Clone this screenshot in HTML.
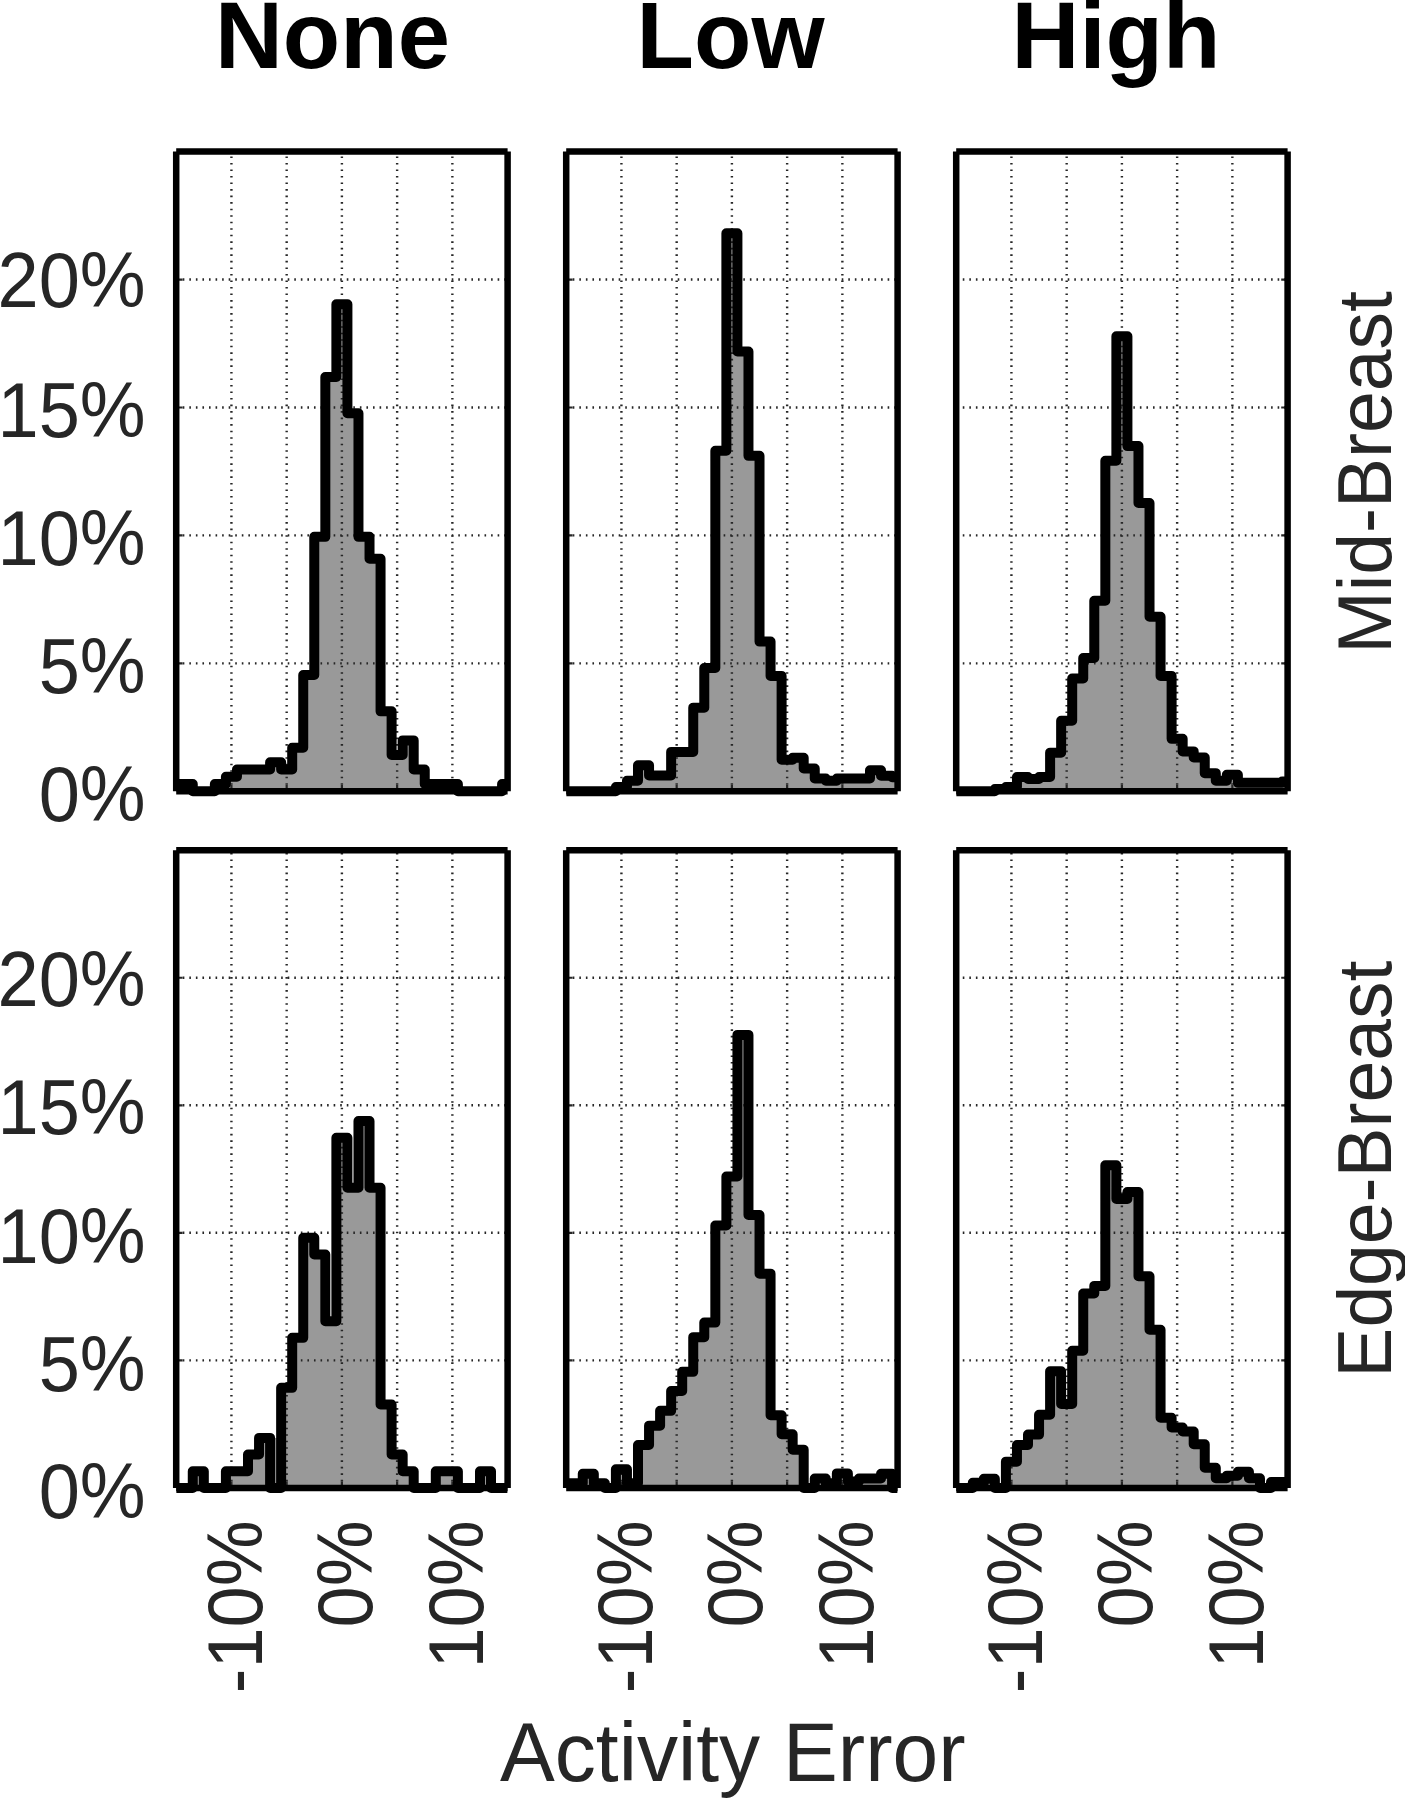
<!DOCTYPE html>
<html lang="en"><head><meta charset="utf-8">
<title>Activity Error histograms</title>
<style>
html,body{margin:0;padding:0;background:#fff;}
body{width:1405px;height:1800px;overflow:hidden;}
svg{display:block;}
text{font-family:"Liberation Sans",Arial,Helvetica,sans-serif;fill:#262626;}
.ttl{font-weight:bold;font-size:94px;fill:#000;}
.tk{font-size:74px;}
.rl{font-size:75px;}
.xl{font-size:82.2px;}
.g{fill:none;stroke:#262626;stroke-width:2.4;stroke-dasharray:1.6 4.96;}
.gv{stroke-dasharray:1.6 4.93;}
.t{fill:none;stroke:#262626;stroke-width:2.2;}
.h{fill:none;stroke:#000;stroke-width:10.0;stroke-linejoin:round;stroke-linecap:butt;}
.f{fill:none;stroke:#000;stroke-width:6.5;stroke-linecap:butt;}
</style></head><body>
<svg width="1405" height="1800" viewBox="0 0 1405 1800">
<rect width="1405" height="1800" fill="#fff"/>
<text class="ttl" transform="translate(215 68.4) scale(1 1.015)">None</text>
<text class="ttl" transform="translate(636.6 68.4) scale(1 1.015)">Low</text>
<text class="ttl" transform="translate(1011.6 68.4) scale(1 1.015)">High</text>
<g>
<clipPath id="c0"><rect x="176.2" y="131.6" width="331.4" height="679.7"/></clipPath>
<path d="M176.2 791.3V784.03H181.72V784.03H192.77V791.3H203.82V791.3H214.86V784.03H225.91V776.76H236.96V769.49H248V769.49H259.05V769.49H270.1V762.22H281.14V769.49H292.19V747.68H303.24V674.99H314.28V536.87H325.33V376.95H336.38V304.26H347.42V413.3H358.47V536.87H369.52V558.68H380.56V711.34H391.61V754.95H402.66V740.41H413.7V769.49H424.75V784.03H435.8V784.03H446.84V784.03H457.89V791.3H468.94V791.3H479.98V791.3H491.03V791.3H502.08V784.03H507.6V791.3H176.2Z" fill="#999999"/>
<path d="M231.43 791.4V151.6M286.67 791.4V151.6M341.9 791.4V151.6M397.13 791.4V151.6M452.37 791.4V151.6" class="g gv"/>
<path d="M176.2 663.36H507.6M176.2 535.42H507.6M176.2 407.48H507.6M176.2 279.54H507.6" class="g"/>
<path d="M176.2 663.36h6.4M176.2 535.42h6.4M176.2 407.48h6.4M176.2 279.54h6.4M231.43 791.3v-6.4M286.67 791.3v-6.4M341.9 791.3v-6.4M397.13 791.3v-6.4M452.37 791.3v-6.4" class="t"/>
<path d="M176.2 791.3V784.03H181.72V784.03H192.77V791.3H203.82V791.3H214.86V784.03H225.91V776.76H236.96V769.49H248V769.49H259.05V769.49H270.1V762.22H281.14V769.49H292.19V747.68H303.24V674.99H314.28V536.87H325.33V376.95H336.38V304.26H347.42V413.3H358.47V536.87H369.52V558.68H380.56V711.34H391.61V754.95H402.66V740.41H413.7V769.49H424.75V784.03H435.8V784.03H446.84V784.03H457.89V791.3H468.94V791.3H479.98V791.3H491.03V791.3H502.08V784.03H507.6" class="h" clip-path="url(#c0)"/>
<path d="M176.2 151.6H507.6M507.6 151.6V791.3M507.6 791.3H176.2M176.2 791.3V151.6" class="f"/>
</g>
<g>
<clipPath id="c1"><rect x="566.2" y="131.6" width="331.4" height="679.7"/></clipPath>
<path d="M566.2 791.3V791.3H571.72V791.3H582.77V791.3H593.82V791.3H604.86V791.3H615.91V786.95H626.96V780.81H638V765.2H649.05V775.44H660.1V775.44H671.14V751.89H682.19V751.89H693.24V707.63H704.28V667.97H715.33V450.72H726.38V233.23H737.42V351.44H748.47V455.84H759.52V641.61H770.56V675.9H781.61V759.83H792.66V757.78H803.7V768.53H814.75V778.51H825.8V780.81H836.84V778.51H847.89V778.51H858.94V778.51H869.98V770.32H881.03V775.69H892.08V777.23H897.6V791.3H566.2Z" fill="#999999"/>
<path d="M621.43 791.4V151.6M676.67 791.4V151.6M731.9 791.4V151.6M787.13 791.4V151.6M842.37 791.4V151.6" class="g gv"/>
<path d="M566.2 663.36H897.6M566.2 535.42H897.6M566.2 407.48H897.6M566.2 279.54H897.6" class="g"/>
<path d="M566.2 663.36h6.4M566.2 535.42h6.4M566.2 407.48h6.4M566.2 279.54h6.4M621.43 791.3v-6.4M676.67 791.3v-6.4M731.9 791.3v-6.4M787.13 791.3v-6.4M842.37 791.3v-6.4" class="t"/>
<path d="M566.2 791.3V791.3H571.72V791.3H582.77V791.3H593.82V791.3H604.86V791.3H615.91V786.95H626.96V780.81H638V765.2H649.05V775.44H660.1V775.44H671.14V751.89H682.19V751.89H693.24V707.63H704.28V667.97H715.33V450.72H726.38V233.23H737.42V351.44H748.47V455.84H759.52V641.61H770.56V675.9H781.61V759.83H792.66V757.78H803.7V768.53H814.75V778.51H825.8V780.81H836.84V778.51H847.89V778.51H858.94V778.51H869.98V770.32H881.03V775.69H892.08V777.23H897.6" class="h" clip-path="url(#c1)"/>
<path d="M566.2 151.6H897.6M897.6 151.6V791.3M897.6 791.3H566.2M566.2 791.3V151.6" class="f"/>
</g>
<g>
<clipPath id="c2"><rect x="956.2" y="131.6" width="331.4" height="679.7"/></clipPath>
<path d="M956.2 791.3V791.3H961.72V791.3H972.77V791.3H983.82V791.3H994.86V789H1005.91V786.95H1016.96V776.97H1028V779.02H1039.05V776.97H1050.1V752.66H1061.14V720.68H1072.19V678.46H1083.24V657.99H1094.28V600.67H1105.33V460.7H1116.38V336.35H1127.42V446.12H1138.47V502.92H1149.52V616.79H1160.56V675.9H1171.61V738.84H1182.66V751.38H1193.7V757.52H1204.75V773.13H1215.8V780.81H1226.84V774.67H1237.89V782.86H1248.94V782.86H1259.98V782.86H1271.03V782.86H1282.08V781.58H1287.6V791.3H956.2Z" fill="#999999"/>
<path d="M1011.43 791.4V151.6M1066.67 791.4V151.6M1121.9 791.4V151.6M1177.13 791.4V151.6M1232.37 791.4V151.6" class="g gv"/>
<path d="M956.2 663.36H1287.6M956.2 535.42H1287.6M956.2 407.48H1287.6M956.2 279.54H1287.6" class="g"/>
<path d="M1287.6 663.36h-6.4M1287.6 535.42h-6.4M1287.6 407.48h-6.4M1287.6 279.54h-6.4M1011.43 791.3v-6.4M1066.67 791.3v-6.4M1121.9 791.3v-6.4M1177.13 791.3v-6.4M1232.37 791.3v-6.4" class="t"/>
<path d="M956.2 791.3V791.3H961.72V791.3H972.77V791.3H983.82V791.3H994.86V789H1005.91V786.95H1016.96V776.97H1028V779.02H1039.05V776.97H1050.1V752.66H1061.14V720.68H1072.19V678.46H1083.24V657.99H1094.28V600.67H1105.33V460.7H1116.38V336.35H1127.42V446.12H1138.47V502.92H1149.52V616.79H1160.56V675.9H1171.61V738.84H1182.66V751.38H1193.7V757.52H1204.75V773.13H1215.8V780.81H1226.84V774.67H1237.89V782.86H1248.94V782.86H1259.98V782.86H1271.03V782.86H1282.08V781.58H1287.6" class="h" clip-path="url(#c2)"/>
<path d="M956.2 151.6H1287.6M1287.6 151.6V791.3M1287.6 791.3H956.2M956.2 791.3V151.6" class="f"/>
</g>
<g>
<clipPath id="c3"><rect x="176.2" y="830.2" width="331.4" height="677.7"/></clipPath>
<path d="M176.2 1487.9V1487.9H181.72V1487.9H192.77V1471.23H203.82V1487.9H214.86V1487.9H225.91V1471.23H236.96V1471.23H248V1454.56H259.05V1437.88H270.1V1487.9H281.14V1387.87H292.19V1337.85H303.24V1237.82H314.28V1254.49H325.33V1321.18H336.38V1137.79H347.42V1187.81H358.47V1121.12H369.52V1187.81H380.56V1404.54H391.61V1454.56H402.66V1471.23H413.7V1487.9H424.75V1487.9H435.8V1471.23H446.84V1471.23H457.89V1487.9H468.94V1487.9H479.98V1471.23H491.03V1487.9H502.08V1487.9H507.6V1487.9H176.2Z" fill="#999999"/>
<rect x="270.1" y="1437.88" width="11.05" height="50.02" fill="#999999"/>
<path d="M231.43 1488V850.2M286.67 1488V850.2M341.9 1488V850.2M397.13 1488V850.2M452.37 1488V850.2" class="g gv"/>
<path d="M176.2 1360.36H507.6M176.2 1232.82H507.6M176.2 1105.28H507.6M176.2 977.74H507.6" class="g"/>
<path d="M176.2 1360.36h6.4M176.2 1232.82h6.4M176.2 1105.28h6.4M176.2 977.74h6.4M231.43 1487.9v-6.4M286.67 1487.9v-6.4M341.9 1487.9v-6.4M397.13 1487.9v-6.4M452.37 1487.9v-6.4" class="t"/>
<path d="M176.2 1487.9V1487.9H181.72V1487.9H192.77V1471.23H203.82V1487.9H214.86V1487.9H225.91V1471.23H236.96V1471.23H248V1454.56H259.05V1437.88H270.1V1487.9H281.14V1387.87H292.19V1337.85H303.24V1237.82H314.28V1254.49H325.33V1321.18H336.38V1137.79H347.42V1187.81H358.47V1121.12H369.52V1187.81H380.56V1404.54H391.61V1454.56H402.66V1471.23H413.7V1487.9H424.75V1487.9H435.8V1471.23H446.84V1471.23H457.89V1487.9H468.94V1487.9H479.98V1471.23H491.03V1487.9H502.08V1487.9H507.6" class="h" clip-path="url(#c3)"/>
<path d="M176.2 850.2H507.6M507.6 850.2V1487.9M507.6 1487.9H176.2M176.2 1487.9V850.2" class="f"/>
</g>
<g>
<clipPath id="c4"><rect x="566.2" y="830.2" width="331.4" height="677.7"/></clipPath>
<path d="M566.2 1487.9V1483.23H571.72V1483.23H582.77V1473.74H593.82V1483.23H604.86V1487.9H615.91V1469.28H626.96V1483.23H638V1444.92H649.05V1425.66H660.1V1410.87H671.14V1390.97H682.19V1371.84H693.24V1337.15H704.28V1322.61H715.33V1225.42H726.38V1176.45H737.42V1034.88H748.47V1214.96H759.52V1273.63H770.56V1415.2H781.61V1434.33H792.66V1449.64H803.7V1487.9H814.75V1478.56H825.8V1483.31H836.84V1473.41H847.89V1481.52H858.94V1478.56H869.98V1478.56H881.03V1473.87H892.08V1487.9H897.6V1487.9H566.2Z" fill="#999999"/>
<path d="M621.43 1488V850.2M676.67 1488V850.2M731.9 1488V850.2M787.13 1488V850.2M842.37 1488V850.2" class="g gv"/>
<path d="M566.2 1360.36H897.6M566.2 1232.82H897.6M566.2 1105.28H897.6M566.2 977.74H897.6" class="g"/>
<path d="M566.2 1360.36h6.4M566.2 1232.82h6.4M566.2 1105.28h6.4M566.2 977.74h6.4M621.43 1487.9v-6.4M676.67 1487.9v-6.4M731.9 1487.9v-6.4M787.13 1487.9v-6.4M842.37 1487.9v-6.4" class="t"/>
<path d="M566.2 1487.9V1483.23H571.72V1483.23H582.77V1473.74H593.82V1483.23H604.86V1487.9H615.91V1469.28H626.96V1483.23H638V1444.92H649.05V1425.66H660.1V1410.87H671.14V1390.97H682.19V1371.84H693.24V1337.15H704.28V1322.61H715.33V1225.42H726.38V1176.45H737.42V1034.88H748.47V1214.96H759.52V1273.63H770.56V1415.2H781.61V1434.33H792.66V1449.64H803.7V1487.9H814.75V1478.56H825.8V1483.31H836.84V1473.41H847.89V1481.52H858.94V1478.56H869.98V1478.56H881.03V1473.87H892.08V1487.9H897.6" class="h" clip-path="url(#c4)"/>
<path d="M566.2 850.2H897.6M897.6 850.2V1487.9M897.6 1487.9H566.2M566.2 1487.9V850.2" class="f"/>
</g>
<g>
<clipPath id="c5"><rect x="956.2" y="830.2" width="331.4" height="677.7"/></clipPath>
<path d="M956.2 1487.9V1487.9H961.72V1487.9H972.77V1482.8H983.82V1478.72H994.86V1487.9H1005.91V1461.63H1016.96V1444.92H1028V1434.59H1039.05V1414.69H1050.1V1371.33H1061.14V1403.98H1072.19V1350.67H1083.24V1293.53H1094.28V1285.88H1105.33V1165.22H1116.38V1198.89H1127.42V1192.01H1138.47V1276.18H1149.52V1329.75H1160.56V1417.75H1171.61V1427.45H1182.66V1431.53H1193.7V1444.28H1204.75V1467.75H1215.8V1478.21H1226.84V1475.66H1237.89V1471.83H1248.94V1478.21H1259.98V1487.9H1271.03V1482.03H1282.08V1482.03H1287.6V1487.9H956.2Z" fill="#999999"/>
<path d="M1011.43 1488V850.2M1066.67 1488V850.2M1121.9 1488V850.2M1177.13 1488V850.2M1232.37 1488V850.2" class="g gv"/>
<path d="M956.2 1360.36H1287.6M956.2 1232.82H1287.6M956.2 1105.28H1287.6M956.2 977.74H1287.6" class="g"/>
<path d="M1287.6 1360.36h-6.4M1287.6 1232.82h-6.4M1287.6 1105.28h-6.4M1287.6 977.74h-6.4M1011.43 1487.9v-6.4M1066.67 1487.9v-6.4M1121.9 1487.9v-6.4M1177.13 1487.9v-6.4M1232.37 1487.9v-6.4" class="t"/>
<path d="M956.2 1487.9V1487.9H961.72V1487.9H972.77V1482.8H983.82V1478.72H994.86V1487.9H1005.91V1461.63H1016.96V1444.92H1028V1434.59H1039.05V1414.69H1050.1V1371.33H1061.14V1403.98H1072.19V1350.67H1083.24V1293.53H1094.28V1285.88H1105.33V1165.22H1116.38V1198.89H1127.42V1192.01H1138.47V1276.18H1149.52V1329.75H1160.56V1417.75H1171.61V1427.45H1182.66V1431.53H1193.7V1444.28H1204.75V1467.75H1215.8V1478.21H1226.84V1475.66H1237.89V1471.83H1248.94V1478.21H1259.98V1487.9H1271.03V1482.03H1282.08V1482.03H1287.6" class="h" clip-path="url(#c5)"/>
<path d="M956.2 850.2H1287.6M1287.6 850.2V1487.9M1287.6 1487.9H956.2M956.2 1487.9V850.2" class="f"/>
</g>
<text class="tk" text-anchor="end" transform="translate(145.6 307.3) scale(1 1.047)">20%</text>
<text class="tk" text-anchor="end" transform="translate(145.6 436.7) scale(1 1.047)">15%</text>
<text class="tk" text-anchor="end" transform="translate(145.6 564.6) scale(1 1.047)">10%</text>
<text class="tk" text-anchor="end" transform="translate(145.6 692.9) scale(1 1.047)">5%</text>
<text class="tk" text-anchor="end" transform="translate(145.6 821.2) scale(1 1.047)">0%</text>
<text class="tk" text-anchor="end" transform="translate(145.6 1006.1) scale(1 1.047)">20%</text>
<text class="tk" text-anchor="end" transform="translate(145.6 1133.9) scale(1 1.047)">15%</text>
<text class="tk" text-anchor="end" transform="translate(145.6 1262.6) scale(1 1.047)">10%</text>
<text class="tk" text-anchor="end" transform="translate(145.6 1390.7) scale(1 1.047)">5%</text>
<text class="tk" text-anchor="end" transform="translate(145.6 1517.8) scale(1 1.047)">0%</text>
<text class="tk" text-anchor="end" transform="translate(261.73 1520.5) rotate(-90) scale(1 1.047)">-10%</text>
<text class="tk" text-anchor="end" transform="translate(372.2 1520.5) rotate(-90) scale(1 1.047)">0%</text>
<text class="tk" text-anchor="end" transform="translate(482.67 1520.5) rotate(-90) scale(1 1.047)">10%</text>
<text class="tk" text-anchor="end" transform="translate(651.73 1520.5) rotate(-90) scale(1 1.047)">-10%</text>
<text class="tk" text-anchor="end" transform="translate(762.2 1520.5) rotate(-90) scale(1 1.047)">0%</text>
<text class="tk" text-anchor="end" transform="translate(872.67 1520.5) rotate(-90) scale(1 1.047)">10%</text>
<text class="tk" text-anchor="end" transform="translate(1041.73 1520.5) rotate(-90) scale(1 1.047)">-10%</text>
<text class="tk" text-anchor="end" transform="translate(1152.2 1520.5) rotate(-90) scale(1 1.047)">0%</text>
<text class="tk" text-anchor="end" transform="translate(1262.67 1520.5) rotate(-90) scale(1 1.047)">10%</text>
<text class="rl" text-anchor="middle" transform="translate(1391.2 472.5) rotate(-90) scale(1 1.02)">Mid-Breast</text>
<text class="rl" text-anchor="middle" transform="translate(1391.2 1169.2) rotate(-90) scale(1 1.02)">Edge-Breast</text>
<text class="xl" text-anchor="middle" transform="translate(732.8 1781.2) scale(1 1.005)">Activity Error</text>
</svg>
</body></html>
